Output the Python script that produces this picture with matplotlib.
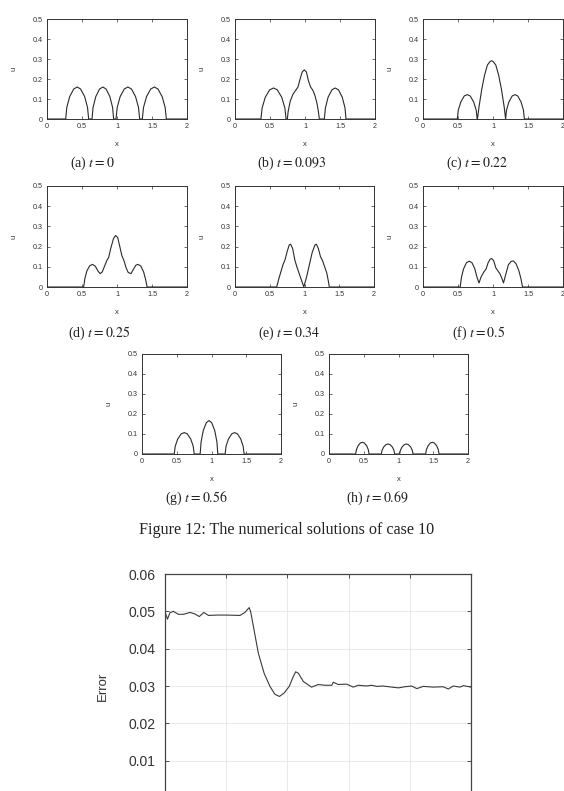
import matplotlib
matplotlib.use("Agg")
import matplotlib.pyplot as plt
from matplotlib.ticker import FuncFormatter, MultipleLocator

plt.rcParams['font.family'] = ['Liberation Sans', 'DejaVu Sans']
plt.rcParams['mathtext.fontset'] = 'stix'

# ---------------- data ----------------
a_x = [0.0, 0.267, 0.283, 0.324, 0.382, 0.431, 0.480, 0.538, 0.579, 0.595,
       0.643, 0.658, 0.697, 0.751, 0.798, 0.844, 0.898, 0.937, 0.952,
       0.986, 1.003, 1.045, 1.104, 1.155, 1.206, 1.265, 1.307, 1.324,
       1.362, 1.379, 1.422, 1.482, 1.534, 1.585, 1.645, 1.688, 1.705, 2.0]
a_u = [0.0, 0.0, 0.058, 0.112, 0.150, 0.160, 0.150, 0.112, 0.058, 0.0,
       0.0, 0.058, 0.112, 0.150, 0.160, 0.150, 0.112, 0.058, 0.0,
       0.0, 0.058, 0.112, 0.150, 0.160, 0.150, 0.112, 0.058, 0.0,
       0.0, 0.058, 0.112, 0.150, 0.160, 0.150, 0.112, 0.058, 0.0, 0.0]

b_x = [0.0, 0.370, 0.388, 0.433, 0.496, 0.550, 0.604, 0.667, 0.712, 0.730,
       0.748, 0.760, 0.790, 0.830, 0.870, 0.900, 0.930, 0.960, 0.990, 1.020,
       1.050, 1.080, 1.110, 1.140, 1.170, 1.190, 1.205,
       1.276, 1.292, 1.330, 1.385, 1.431, 1.478, 1.532, 1.571, 1.586, 2.0]
b_u = [0.0, 0.0, 0.056, 0.109, 0.146, 0.155, 0.146, 0.109, 0.056, 0.0,
       0.0, 0.040, 0.090, 0.125, 0.145, 0.160, 0.200, 0.235, 0.246, 0.235,
       0.190, 0.160, 0.145, 0.120, 0.080, 0.040, 0.0,
       0.0, 0.056, 0.109, 0.146, 0.155, 0.146, 0.109, 0.056, 0.0, 0.0]

c_x = [0.0, 0.490, 0.504, 0.540, 0.589, 0.632, 0.675, 0.724, 0.760, 0.774,
       0.778, 0.800, 0.840, 0.880, 0.920, 0.960, 0.980, 1.000, 1.040, 1.080,
       1.120, 1.160, 1.180,
       1.193, 1.227, 1.274, 1.314, 1.354, 1.401, 1.435, 1.448, 2.0]
c_u = [0.0, 0.0, 0.044, 0.085, 0.115, 0.122, 0.115, 0.085, 0.044, 0.0,
       0.0, 0.060, 0.150, 0.220, 0.270, 0.288, 0.291, 0.288, 0.270, 0.220,
       0.150, 0.060, 0.0,
       0.044, 0.085, 0.115, 0.122, 0.115, 0.085, 0.044, 0.0, 0.0]

d_x = [0.0, 0.524, 0.540, 0.570, 0.610, 0.650, 0.690, 0.730, 0.760, 0.790,
       0.830, 0.860, 0.880, 0.910, 0.950, 0.980, 1.010, 1.040, 1.070, 1.100,
       1.130, 1.160, 1.200, 1.230, 1.270, 1.300, 1.340, 1.380, 1.410, 1.430, 2.0]
d_u = [0.0, 0.0, 0.040, 0.080, 0.105, 0.112, 0.103, 0.078, 0.066, 0.075,
       0.110, 0.135, 0.145, 0.190, 0.240, 0.255, 0.245, 0.200, 0.155, 0.130,
       0.095, 0.072, 0.066, 0.085, 0.108, 0.112, 0.104, 0.075, 0.035, 0.0, 0.0]

e_x = [0.0, 0.600, 0.630, 0.660, 0.690, 0.720, 0.750, 0.780, 0.800, 0.830,
       0.860, 0.890, 0.920, 0.950, 0.990, 1.030, 1.070, 1.110, 1.150, 1.170,
       1.200, 1.230, 1.260, 1.290, 1.320, 1.340, 1.357, 2.0]
e_u = [0.0, 0.0, 0.040, 0.075, 0.110, 0.135, 0.175, 0.208, 0.212, 0.190,
       0.135, 0.100, 0.070, 0.040, 0.0, 0.050, 0.110, 0.170, 0.208, 0.212,
       0.190, 0.150, 0.130, 0.100, 0.070, 0.035, 0.0, 0.0]

f_x = [0.0, 0.531, 0.550, 0.580, 0.620, 0.660, 0.700, 0.740, 0.770, 0.800,
       0.830, 0.870, 0.900, 0.930, 0.960, 0.980, 1.010, 1.040, 1.070, 1.100,
       1.130, 1.150, 1.180, 1.220, 1.260, 1.290, 1.330, 1.370, 1.400, 1.422, 2.0]
f_u = [0.0, 0.0, 0.050, 0.090, 0.120, 0.128, 0.120, 0.090, 0.050, 0.020,
       0.050, 0.075, 0.088, 0.120, 0.138, 0.141, 0.130, 0.095, 0.080, 0.065,
       0.040, 0.020, 0.060, 0.110, 0.127, 0.129, 0.115, 0.080, 0.040, 0.0, 0.0]

g_x = [0.0, 0.464, 0.478, 0.514, 0.565, 0.608, 0.651, 0.701, 0.737, 0.751,
       0.837, 0.850, 0.881, 0.926, 0.964, 1.002, 1.047, 1.078, 1.091,
       1.196, 1.209, 1.244, 1.292, 1.333, 1.373, 1.421, 1.455, 1.469, 2.0]
g_u = [0.0, 0.0, 0.039, 0.075, 0.101, 0.107, 0.101, 0.075, 0.039, 0.0,
       0.0, 0.060, 0.117, 0.157, 0.167, 0.157, 0.117, 0.060, 0.0,
       0.0, 0.039, 0.075, 0.101, 0.107, 0.101, 0.075, 0.039, 0.0, 0.0]

h_x = [0.0, 0.384, 0.394, 0.418, 0.451, 0.480, 0.509, 0.542, 0.566, 0.576,
       0.753, 0.763, 0.787, 0.820, 0.849, 0.878, 0.911, 0.935, 0.945,
       1.017, 1.027, 1.051, 1.084, 1.113, 1.142, 1.175, 1.199, 1.209,
       1.391, 1.401, 1.425, 1.458, 1.487, 1.516, 1.549, 1.573, 1.583, 2.0]
h_u = [0.0, 0.0, 0.021, 0.041, 0.055, 0.0585, 0.055, 0.041, 0.021, 0.0,
       0.0, 0.018, 0.035, 0.047, 0.050, 0.047, 0.035, 0.018, 0.0,
       0.0, 0.018, 0.035, 0.047, 0.050, 0.047, 0.035, 0.018, 0.0,
       0.0, 0.021, 0.041, 0.055, 0.0585, 0.055, 0.041, 0.021, 0.0, 0.0]

captions = [r"(a) $t = 0$", r"(b) $t = 0.093$", r"(c) $t = 0.22$",
            r"(d) $t = 0.25$", r"(e) $t = 0.34$", r"(f) $t = 0.5$",
            r"(g) $t = 0.56$", r"(h) $t = 0.69$"]
figure_caption = "Figure 12: The numerical solutions of case 10"

err_t = [0.000, 0.008, 0.016, 0.027, 0.044, 0.060, 0.082, 0.098, 0.112, 0.127,
         0.142, 0.169, 0.201, 0.245, 0.261, 0.275, 0.280, 0.289, 0.305, 0.324,
         0.343, 0.359, 0.374, 0.389, 0.406, 0.419, 0.427, 0.436, 0.452, 0.479,
         0.501, 0.523, 0.545, 0.550, 0.566, 0.594, 0.615, 0.632, 0.659, 0.675,
         0.692, 0.713, 0.741, 0.763, 0.784, 0.806, 0.823, 0.844, 0.877, 0.909,
         0.926, 0.942, 0.964, 0.975, 1.000]
err_v = [0.0499, 0.0479, 0.0496, 0.0500, 0.0492, 0.0492, 0.0497, 0.0493, 0.0486, 0.0497,
         0.0489, 0.0490, 0.0490, 0.0489, 0.0497, 0.0510, 0.0499, 0.0459, 0.0388, 0.0334,
         0.0299, 0.0278, 0.0272, 0.0281, 0.0299, 0.0325, 0.0338, 0.0334, 0.0312, 0.0297,
         0.0304, 0.0302, 0.0302, 0.0310, 0.0304, 0.0305, 0.0297, 0.0302, 0.0300, 0.0302,
         0.0299, 0.0300, 0.0297, 0.0295, 0.0298, 0.0300, 0.0293, 0.0299, 0.0297, 0.0298,
         0.0292, 0.0300, 0.0297, 0.0301, 0.0297]
err_yticks = [0.01, 0.02, 0.03, 0.04, 0.05, 0.06]

# ---------------- layout ----------------
W, H = 564, 791
fig = plt.figure(figsize=(W / 100, H / 100), dpi=100)

def rect(left, top, right, bottom):
    return [left / W, (H - bottom) / H, (right - left) / W, (bottom - top) / H]

panels = [
    (a_x, a_u, (47, 19, 187, 119), 92, 163),
    (b_x, b_u, (235, 19, 375, 119), 292, 163),
    (c_x, c_u, (423, 19, 563, 119), 477, 163),
    (d_x, d_u, (47, 186, 187, 287), 99, 333),
    (e_x, e_u, (235, 186, 374, 287), 289, 333),
    (f_x, f_u, (423, 186, 563, 287), 479, 333),
    (g_x, g_u, (142, 354, 281, 454), 196, 498),
    (h_x, h_u, (329, 354, 468, 454), 377, 498),
]

fmt = FuncFormatter(lambda v, p: "%g" % round(v, 3))
frame = '#333333'

for (xs, us, box, cap_x, cap_y), cap in zip(panels, captions):
    ax = fig.add_axes(rect(*box))
    ax.plot(xs, us, color='#2a2a2a', lw=0.8)
    ax.set_xlim(0, 2)
    ax.set_ylim(0, 0.5)
    ax.xaxis.set_major_locator(MultipleLocator(0.5))
    ax.yaxis.set_major_locator(MultipleLocator(0.1))
    ax.xaxis.set_major_formatter(fmt)
    ax.yaxis.set_major_formatter(fmt)
    ax.tick_params(direction='in', length=2, width=0.5, labelsize=5.2,
                   top=True, right=True, colors=frame, pad=3)
    for s in ax.spines.values():
        s.set_color(frame)
        s.set_linewidth(0.7)
    ax.set_xlabel('x', fontsize=5.5, color=frame, labelpad=8)
    ax.set_ylabel('u', fontsize=5.5, color=frame, labelpad=11)
    fig.text(cap_x / W, 1 - cap_y / H, cap, ha='center', va='center',
             fontsize=10, family='Liberation Serif', color='#222222')

fig.text(287 / W, 1 - 530 / H, figure_caption, ha='center', va='center',
         fontsize=11.6, family='Liberation Serif', color='#222222')

# error plot (extends below the visible canvas)
axe = fig.add_axes(rect(165, 574, 471, 798))
axe.plot(err_t, err_v, color='#3a3a3a', lw=0.8)
axe.set_xlim(0, 1)
axe.set_ylim(0, 0.06)
axe.set_yticks(err_yticks)
axe.set_yticklabels(["%.2f" % v for v in err_yticks])
axe.xaxis.set_major_locator(MultipleLocator(0.2))
axe.grid(True, color='#e6e6e6', lw=0.6)
axe.set_axisbelow(True)
axe.tick_params(direction='in', length=3, width=0.6, labelsize=10,
                right=True, top=True, colors='#333333', pad=7,
                labelbottom=False)
for s in axe.spines.values():
    s.set_color('#444444')
    s.set_linewidth(0.9)
axe.set_ylabel('Error', fontsize=9.5, color='#333333', labelpad=14)

fig.savefig('out.png', dpi=100)
